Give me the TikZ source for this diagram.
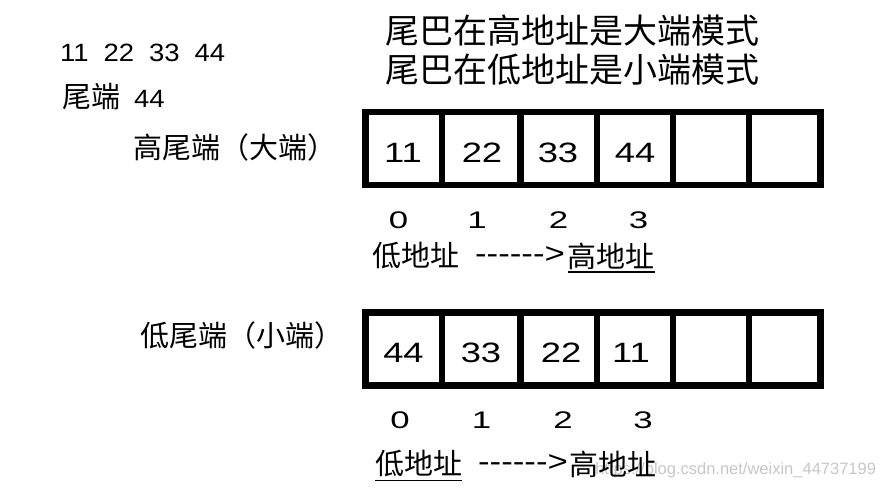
\documentclass[tikz,border=0pt]{standalone}
\usepackage{fontspec}
\setmainfont{Liberation Sans}
\newfontfamily\cjk{Noto Sans CJK SC}
\newfontfamily\latc[FakeStretch=1.3]{Liberation Sans}
\newfontfamily\lati[FakeStretch=1.45]{Liberation Sans}
\newfontfamily\latl[FakeStretch=1.1]{Liberation Sans}
\newfontfamily\latd[FakeStretch=1.2]{Liberation Sans}
\begin{document}
\begin{tikzpicture}[x=1pt,y=-1pt,
  txt/.style={inner sep=0pt, outer sep=0pt},
  cell/.style={draw, line width=6.5pt, minimum height=73pt, inner sep=0pt, outer sep=0pt},
  cjkbig/.style={txt, anchor=west, font=\cjk\fontsize{34}{36}\selectfont},
  cjklab/.style={txt, font=\cjk\fontsize{29}{31}\selectfont},
  val/.style={txt, font=\latc\fontsize{28}{30}\selectfont},
  idx/.style={txt, font=\lati\fontsize{24}{26}\selectfont},
  arrowtxt/.style={txt, font=\latd\fontsize{29}{31}\selectfont},
  uline/.style={line width=1.8pt},
  wmark/.style={txt, anchor=east, text=black!22, font=\fontsize{16.5}{18}\selectfont},
]
\useasboundingbox (0,0) rectangle (884,490);

% top-left notes
\node[txt, anchor=west, font=\latl\fontsize{25}{27}\selectfont] (seq) at (60,53)
  {11\hspace{15pt}22\hspace{15pt}33\hspace{15pt}44};
\node[txt, anchor=west] (tail) at (62,97)
  {{\cjk\fontsize{29}{31}\selectfont 尾端}\hspace{14pt}{\latl\fontsize{25}{27}\selectfont 44}};

% headline
\node[cjkbig] (big1) at (385,31) {尾巴在高地址是大端模式};
\node[cjkbig] (big2) at (385,70) {尾巴在低地址是小端模式};

% row labels
\node[cjklab, anchor=west] (bigend) at (133,147) {高尾端（大端）};
\node[cjklab, anchor=west] (littleend) at (140,335) {低尾端（小端）};

% top memory row
\node[cell, minimum width=76.5pt] (t1) at (403.75,148.5) {};
\node[cell, minimum width=78.5pt] (t2) at (481.25,148.5) {};
\node[cell, minimum width=76.5pt] (t3) at (558.75,148.5) {};
\node[cell, minimum width=76pt]   (t4) at (635,148.5) {};
\node[cell, minimum width=76pt]   (t5) at (711,148.5) {};
\node[cell, minimum width=71.5pt] (t6) at (784.75,148.5) {};
\node[val] (tv1) at (403,153) {11};
\node[val] (tv2) at (482,153) {22};
\node[val] (tv3) at (558,153) {33};
\node[val] (tv4) at (635,153) {44};
\node[idx] (ti0) at (398.5,220) {0};
\node[idx] (ti1) at (477,220) {1};
\node[idx] (ti2) at (558.5,220) {2};
\node[idx] (ti3) at (638.5,220) {3};
\node[cjklab] (tlo) at (416,256) {低地址};
\node[arrowtxt] (tarr) at (520,255.5) {-{}-{}-{}-{}-{}-{}>};
\node[cjklab] (thi) at (611,256) {高地址};
\draw[uline] ([yshift=-3pt]thi.south west) -- ([yshift=-3pt]thi.south east);

% bottom memory row
\node[cell, minimum width=76.5pt] (b1) at (403.75,348.75) {};
\node[cell, minimum width=78.5pt] (b2) at (481.25,348.75) {};
\node[cell, minimum width=76.5pt] (b3) at (558.75,348.75) {};
\node[cell, minimum width=76pt]   (b4) at (635,348.75) {};
\node[cell, minimum width=76pt]   (b5) at (711,348.75) {};
\node[cell, minimum width=71.5pt] (b6) at (784.75,348.75) {};
\node[val] (bv1) at (403.5,353) {44};
\node[val] (bv2) at (481,353) {33};
\node[val] (bv3) at (561,353) {22};
\node[val] (bv4) at (631,353) {11};
\node[idx] (bi0) at (400,420) {0};
\node[idx] (bi1) at (481.5,420) {1};
\node[idx] (bi2) at (563,420) {2};
\node[idx] (bi3) at (643,420) {3};
\node[wmark] (wm) at (876,470) {https://blog.csdn.net/weixin\_44737199};
\node[cjklab] (blo) at (418.5,464) {低地址};
\draw[uline] ([yshift=-3pt]blo.south west) -- ([yshift=-3pt]blo.south east);
\node[arrowtxt] (barr) at (523,463.5) {-{}-{}-{}-{}-{}-{}>};
\node[cjklab] (bhi) at (613,464) {高地址};
\end{tikzpicture}
\end{document}
